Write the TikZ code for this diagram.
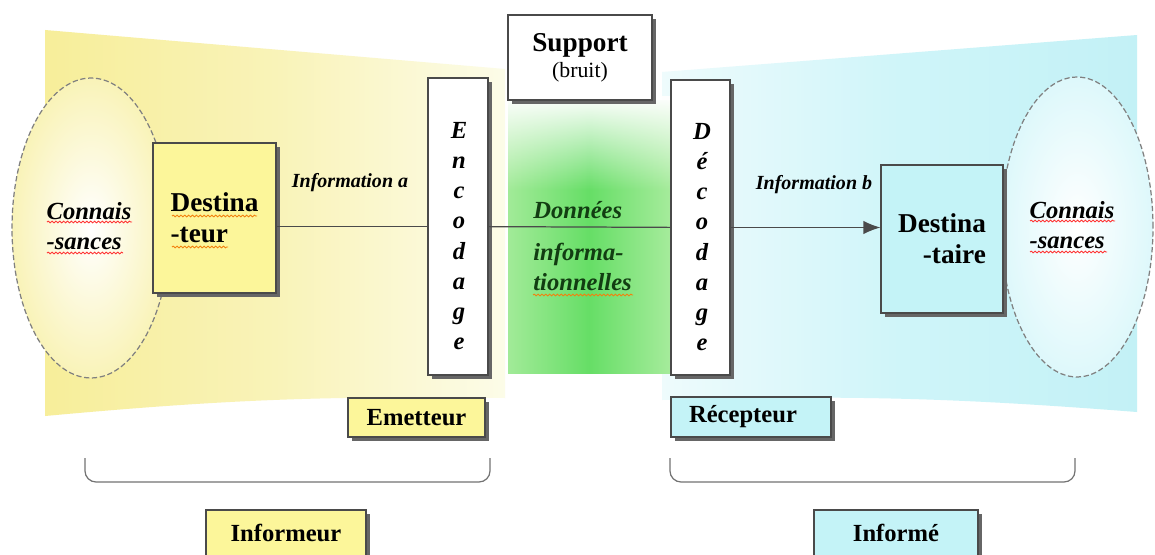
\documentclass[tikz,border=0pt]{standalone}
\usepackage{fontspec}
\setmainfont{Liberation Serif}
\usepackage{tikz}
\usetikzlibrary{arrows.meta,positioning,shadows,shapes.geometric,decorations.pathmorphing,fadings}
\definecolor{jauneboite}{HTML}{FCF69A}
\definecolor{cyanboite}{HTML}{C4F3F7}
\definecolor{fondjg}{HTML}{F7EE9A}
\definecolor{fondjm}{HTML}{F9F3B8}
\definecolor{fondjd}{HTML}{FCFCE8}
\definecolor{fondcg}{HTML}{EEFBFC}
\definecolor{fondcm}{HTML}{CFF5F9}
\definecolor{fondcd}{HTML}{C3F1F6}
\definecolor{vertsupport}{HTML}{66DE66}
\definecolor{vertclair}{HTML}{B2EEA6}
\definecolor{vertfonce}{HTML}{123D12}
\definecolor{traitgris}{HTML}{4A4A4A}
\pgfdeclarehorizontalshading{bandeverte}{100bp}{color(0bp)=(fondjd); color(18bp)=(vertclair); color(50bp)=(vertsupport); color(80bp)=(vertclair); color(100bp)=(fondcg)}

\tikzset{
	boite/.style={rectangle, draw=traitgris, line width=0.7pt, inner sep=0pt,
		general shadow={fill=black!60, shadow xshift=0.08cm, shadow yshift=-0.08cm}},
	bulle/.style={ellipse, draw=gray, dash pattern=on 3pt off 1.5pt, line width=0.7pt, inner sep=0pt},
	texgras/.style={font=\fontsize{15.5}{17.6}\selectfont\bfseries, align=left},
	texital/.style={font=\fontsize{14}{17}\selectfont\bfseries\itshape, align=left},
	texpetit/.style={font=\fontsize{11.4}{13}\selectfont\bfseries\itshape},
	texlettres/.style={font=\fontsize{14}{17.2}\selectfont\bfseries\itshape, align=center},
	texbas/.style={font=\fontsize{14}{16}\selectfont\bfseries},
	lien/.style={draw=traitgris, line width=0.7pt},
	accolade/.style={draw=gray!90!black, line width=0.7pt, rounded corners=0.22cm},
	faute/.style={line width=0.5pt, decorate, decoration={snake, segment length=2.2pt, amplitude=0.5pt}},
}

\begin{document}
\begin{tikzpicture}[x=0.02cm, y=-0.02cm]
	\clip (0,0) rectangle (1155,554);
	\fill[white] (0,0) rectangle (1155,554);
	
	% fonds
	\shade[left color=fondjg, right color=fondjd, middle color=fondjm] (45,30) -- (505,69) -- (505,398) to[bend right=3] (45,416) -- cycle;
	\shade[left color=fondcg, right color=fondcd, middle color=fondcm] (662,72) -- (1137,35) -- (1137,412) to[bend right=3] (662,400) -- cycle;
	\shade[shading=bandeverte] (508,100) rectangle (670,373);
	\fill[white, path fading=south] (505,96) rectangle (672,190);
	
	% connaissances
	\node[bulle, inner color=white, outer color=fondjm, minimum width=3.16cm, minimum height=6cm] (bulG) at (91,228) {};
	\node[bulle, inner color=white, outer color=fondcm!70, minimum width=3.04cm, minimum height=6cm] (bulD) at (1077,227) {};
	\node[texital] (conG) at (89,226) {Connais\\-sances};
	\node[texital] (conD) at (1072,225) {Connais\\-sances};
	
	% boites
	\node[boite, fill=jauneboite, minimum width=2.46cm, minimum height=3cm, texgras] (dest) at (214.5,218) {Destina\\-teur};
	\node[boite, fill=cyanboite, minimum width=2.44cm, minimum height=2.96cm, texgras, align=right] (dst) at (942,239) {Destina\\-taire};
	\node[boite, fill=white, minimum width=1.2cm, minimum height=5.94cm] (enc) at (458,226.5) {};
	\node[boite, fill=white, minimum width=1.18cm, minimum height=5.9cm] (dec) at (700.5,227.5) {};
	\node[texlettres] (encl) at (459,236) {E\\n\\c\\o\\d\\a\\g\\e};
	\node[texlettres] (decl) at (702,237) {D\\é\\c\\o\\d\\a\\g\\e};
	\node[boite, fill=white, minimum width=2.88cm, minimum height=1.7cm, align=center] (sup) at (580,57.5) {{\fontsize{15.5}{17}\selectfont\bfseries Support}\\[3pt]{\fontsize{12.4}{14}\selectfont (bruit)}};
	
	% liens
	\draw[lien] (dest.east |- enc) -- (enc);
	\draw[lien] (enc) -- (dec);
	\draw[lien, -{Latex[length=0.34cm, width=0.27cm]}] (dec) -- (dec -| dst.west);
	\node[texpetit] (infA) at (350,183) {Information a};
	\node[texpetit] (infB) at (814,185) {Information b};
	\node[texital, text=vertfonce, anchor=base west, inner sep=0pt] (donA) at (533,218) {Données};
	\node[texital, text=vertfonce, anchor=base west, inner sep=0pt] (donB) at (533,260) {informa-};
	\node[texital, text=vertfonce, anchor=base west, inner sep=0pt] (donC) at (533,290) {tionnelles};
	
	% fautes
	\draw[faute, red!80] (47,222) -- (132,222);
	\draw[faute, red!80] (47,253) -- (123,253);
	\draw[faute, orange!80!brown] (172,216) -- (257,216);
	\draw[faute, orange!80!brown] (172,247) -- (228,247);
	\draw[faute, orange!80!brown] (533,295) -- (633,295);
	\draw[faute, red!80] (1030,221) -- (1115,221);
	\draw[faute, red!80] (1030,252) -- (1107,252);
	
	% bas
	\node[boite, fill=jauneboite, minimum width=2.74cm, minimum height=0.78cm, texbas] (emet) at (416.5,417.5) {Emetteur};
	\node[boite, fill=cyanboite, minimum width=3.2cm, minimum height=0.8cm, texbas, text width=2.48cm, inner xsep=0.36cm, align=left] (recep) at (751,417) {Récepteur};
	\node[boite, fill=jauneboite, minimum width=3.2cm, minimum height=0.92cm, texbas] (infor) at (286,533) {Informeur};
	\node[boite, fill=cyanboite, minimum width=3.28cm, minimum height=0.92cm, texbas] (informe) at (896,533) {Informé};
	
	\coordinate (accGa) at (85,458);
	\coordinate (accGb) at (490,458);
	\coordinate (accDa) at (670,458);
	\coordinate (accDb) at (1075,458);
	\draw[accolade] (accGa) |- ([yshift=-0.48cm]accGb) -- (accGb);
	\draw[accolade] (accDa) |- ([yshift=-0.48cm]accDb) -- (accDb);
\end{tikzpicture}
\end{document}
